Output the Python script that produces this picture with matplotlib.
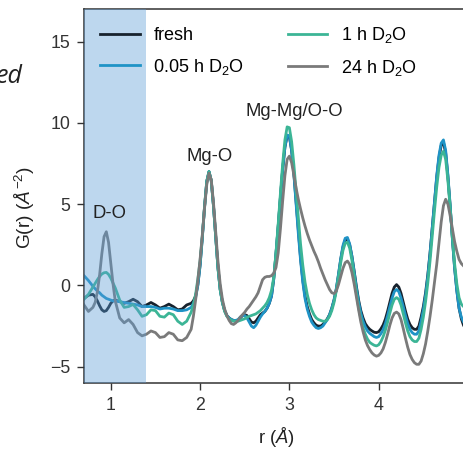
import numpy as np
import matplotlib
matplotlib.use("Agg")
import matplotlib.pyplot as plt

# G(r) of MgO after D2O exposure
# r sampling: coarse at low r, 0.025 A steps from 1.9 A on
r = [0.70, 0.75, 0.80, 0.825, 0.85, 0.875, 0.90, 0.925, 0.95, 0.975,
     1.00, 1.025, 1.05, 1.10, 1.15, 1.20, 1.25, 1.30, 1.35, 1.40,
     1.45, 1.50, 1.55, 1.60, 1.65, 1.70, 1.75, 1.80, 1.85, 1.90,
     1.925, 1.95, 1.975, 2.00, 2.025, 2.05, 2.075, 2.10, 2.125, 2.15,
     2.175, 2.20, 2.225, 2.25, 2.275, 2.30, 2.325, 2.35, 2.375, 2.40,
     2.425, 2.45, 2.475, 2.50, 2.525, 2.55, 2.575, 2.60, 2.625, 2.65,
     2.675, 2.70, 2.725, 2.75, 2.775, 2.80, 2.825, 2.85, 2.875, 2.90,
     2.925, 2.95, 2.975, 3.00, 3.025, 3.05, 3.075, 3.10, 3.125, 3.15,
     3.175, 3.20, 3.225, 3.25, 3.275, 3.30, 3.325, 3.35, 3.375, 3.40,
     3.425, 3.45, 3.475, 3.50, 3.525, 3.55, 3.575, 3.60, 3.625, 3.65,
     3.675, 3.70, 3.725, 3.75, 3.775, 3.80, 3.825, 3.85, 3.875, 3.90,
     3.925, 3.95, 3.975, 4.00, 4.025, 4.05, 4.075, 4.10, 4.125, 4.15,
     4.175, 4.20, 4.225, 4.25, 4.275, 4.30, 4.325, 4.35, 4.375, 4.40,
     4.425, 4.45, 4.475, 4.50, 4.525, 4.55, 4.575, 4.60, 4.625, 4.65,
     4.675, 4.70, 4.725, 4.75, 4.775, 4.80, 4.825, 4.85, 4.875, 4.90,
     4.925, 4.95, 4.975, 5.00]

g_fresh = [-0.80, -0.60, -0.55, -0.70, -0.95, -1.25, -1.50, -1.60, -1.55, -1.35,
           -1.10, -0.95, -0.90, -1.00, -1.10, -1.00, -0.85, -1.00, -1.30, -1.20,
           -1.05, -1.20, -1.40, -1.30, -1.15, -1.30, -1.50, -1.45, -1.20, -1.10,
           -0.95, -0.65, 0.05, 1.25, 2.95, 4.85, 6.40, 7.00, 6.45, 4.90,
           3.00, 1.10, -0.25, -1.05, -1.55, -1.85, -2.00, -2.10, -2.15, -2.20,
           -2.15, -2.00, -1.85, -1.80, -1.85, -2.05, -2.25, -2.30, -2.20, -2.00,
           -1.80, -1.70, -1.60, -1.40, -1.10, -0.65, 0.40, 1.95, 3.65, 5.45,
           7.15, 8.50, 9.20, 9.15, 8.30, 6.90, 5.15, 3.35, 1.70, 0.35,
           -0.65, -1.30, -1.75, -2.10, -2.30, -2.45, -2.50, -2.50, -2.40, -2.25,
           -2.05, -1.80, -1.40, -0.90, -0.25, 0.65, 1.60, 2.35, 2.80, 2.85,
           2.50, 1.80, 0.90, -0.05, -0.90, -1.55, -2.00, -2.35, -2.55, -2.70,
           -2.80, -2.88, -2.90, -2.85, -2.67, -2.43, -2.07, -1.58, -1.02, -0.48,
           -0.10, 0.05, -0.10, -0.48, -1.02, -1.58, -2.07, -2.40, -2.60, -2.70,
           -2.70, -2.50, -1.95, -1.30, -0.45, 0.65, 2.00, 3.55, 5.15, 6.65,
           7.85, 8.60, 8.80, 8.15, 6.70, 4.90, 2.90, 1.10, -0.30, -1.40,
           -2.05, -2.45, -2.70, -2.85]

g_005h = [0.60, 0.30, -0.05, -0.20, -0.35, -0.45, -0.60, -0.70, -0.80, -0.85,
          -0.90, -0.95, -0.95, -1.00, -1.05, -1.10, -1.15, -1.20, -1.30, -1.30,
          -1.30, -1.35, -1.45, -1.40, -1.40, -1.45, -1.55, -1.55, -1.50, -1.35,
          -1.10, -0.75, 0.00, 1.20, 2.90, 4.80, 6.40, 7.00, 6.45, 4.90,
          3.00, 1.10, -0.25, -1.05, -1.55, -1.85, -2.00, -2.10, -2.15, -2.15,
          -2.10, -1.95, -1.85, -1.85, -2.00, -2.25, -2.50, -2.60, -2.45, -2.20,
          -1.95, -1.75, -1.60, -1.40, -1.10, -0.65, 0.40, 1.95, 3.65, 5.45,
          7.15, 8.50, 9.25, 9.20, 8.30, 6.85, 5.05, 3.20, 1.55, 0.20,
          -0.80, -1.45, -1.90, -2.25, -2.45, -2.60, -2.65, -2.60, -2.50, -2.30,
          -2.10, -1.80, -1.40, -0.90, -0.20, 0.70, 1.65, 2.45, 2.90, 2.95,
          2.55, 1.80, 0.85, -0.15, -1.00, -1.70, -2.20, -2.55, -2.80, -2.95,
          -3.05, -3.15, -3.20, -3.15, -2.97, -2.72, -2.35, -1.85, -1.30, -0.78,
          -0.38, -0.25, -0.38, -0.78, -1.30, -1.85, -2.35, -2.70, -2.90, -3.00,
          -3.00, -2.80, -2.20, -1.50, -0.60, 0.55, 1.95, 3.55, 5.20, 6.75,
          8.00, 8.75, 8.95, 8.30, 6.80, 4.95, 2.90, 1.05, -0.35, -1.40,
          -1.95, -2.25, -2.45, -2.60]

g_1h = [-0.85, -0.55, -0.10, 0.12, 0.35, 0.55, 0.70, 0.78, 0.80, 0.68,
        0.45, 0.15, -0.15, -0.90, -1.35, -1.30, -1.17, -1.50, -1.90, -1.80,
        -1.50, -1.55, -1.90, -1.95, -1.70, -1.80, -2.20, -2.40, -2.20, -1.65,
        -1.20, -0.55, 0.40, 1.50, 3.05, 4.85, 6.40, 7.00, 6.45, 4.90,
        3.00, 1.10, -0.25, -1.05, -1.60, -1.90, -2.05, -2.15, -2.20, -2.20,
        -2.20, -2.15, -2.10, -2.05, -1.95, -1.90, -1.85, -1.80, -1.75, -1.65,
        -1.55, -1.40, -1.25, -1.05, -0.75, -0.30, 0.50, 2.00, 3.80, 5.70,
        7.50, 8.95, 9.75, 9.70, 8.85, 7.45, 5.80, 4.10, 2.55, 1.25,
        0.20, -0.55, -1.10, -1.50, -1.80, -2.00, -2.10, -2.15, -2.20, -2.20,
        -2.10, -1.90, -1.55, -1.05, -0.35, 0.50, 1.40, 2.15, 2.60, 2.65,
        2.30, 1.55, 0.55, -0.45, -1.35, -2.05, -2.60, -3.00, -3.30, -3.50,
        -3.60, -3.68, -3.72, -3.65, -3.45, -3.15, -2.75, -2.25, -1.70, -1.20,
        -0.85, -0.75, -0.85, -1.20, -1.75, -2.30, -2.80, -3.15, -3.35, -3.45,
        -3.45, -3.25, -2.70, -1.95, -1.00, 0.15, 1.50, 3.05, 4.60, 6.05,
        7.25, 8.00, 8.25, 7.75, 6.45, 4.80, 3.00, 1.35, 0.10, -0.75,
        -1.15, -1.30, -1.40, -1.50]

g_24h = [-1.20, -1.60, -1.35, -1.05, -0.40, 0.65, 1.95, 3.00, 3.30, 2.65,
         1.40, 0.10, -0.95, -2.00, -2.30, -2.10, -2.40, -2.90, -3.10, -3.00,
         -2.80, -2.90, -3.20, -3.15, -2.90, -3.00, -3.35, -3.40, -3.20, -2.70,
         -1.90, -0.90, 0.30, 1.60, 3.10, 4.75, 6.20, 6.90, 6.50, 5.10,
         3.30, 1.50, 0.10, -0.85, -1.45, -1.85, -2.15, -2.35, -2.40, -2.30,
         -2.15, -1.95, -1.80, -1.65, -1.45, -1.30, -1.10, -0.90, -0.70, -0.45,
         -0.05, 0.35, 0.50, 0.55, 0.55, 0.60, 0.75, 1.10, 2.00, 3.50,
         5.20, 6.75, 7.75, 7.95, 7.55, 6.80, 6.00, 5.30, 4.70, 4.15,
         3.65, 3.20, 2.80, 2.45, 2.10, 1.80, 1.45, 1.05, 0.70, 0.35,
         0.05, -0.25, -0.45, -0.50, -0.35, 0.05, 0.55, 1.05, 1.40, 1.50,
         1.30, 0.80, 0.10, -0.70, -1.50, -2.25, -2.85, -3.35, -3.70, -3.95,
         -4.15, -4.28, -4.35, -4.30, -4.15, -3.90, -3.50, -3.00, -2.45, -2.00,
         -1.72, -1.64, -1.75, -2.10, -2.65, -3.25, -3.80, -4.25, -4.55, -4.75,
         -4.85, -4.85, -4.65, -4.20, -3.60, -2.80, -1.90, -0.90, 0.20, 1.30,
         2.60, 3.90, 4.90, 5.30, 5.00, 4.30, 3.50, 2.70, 2.10, 1.60,
         1.35, 1.20, 1.05, 0.90]

labels = ["fresh", "0.05 h D$_2$O", "1 h D$_2$O", "24 h D$_2$O"]
colors = ["#17222d", "#1f93c6", "#3cb596", "#7a7a7a"]

peak_names = ["D-O", "Mg-O", "Mg-Mg/O-O"]
peak_pos = [(0.99, 4.4), (2.11, 7.9), (3.05, 10.7)]

plt.rcParams["font.family"] = ["Liberation Sans", "DejaVu Sans"]
plt.rcParams["mathtext.fontset"] = "custom"
plt.rcParams["mathtext.rm"] = "Liberation Sans"
plt.rcParams["mathtext.it"] = "Liberation Sans:italic"

fig = plt.figure(figsize=(4.64, 4.49), dpi=100)
ax = fig.add_axes([0.181, 0.147, 0.8276, 0.833])

for g, lab, c in zip([g_fresh, g_005h, g_1h, g_24h], labels, colors):
    ax.plot(r, g, color=c, lw=2.0, label=lab, zorder=2)

# shaded low-r region (drawn over the curves)
ax.axvspan(0.7, 1.39, color="#5b9bd5", alpha=0.4, lw=0, zorder=3)

for name, (x, y) in zip(peak_names, peak_pos):
    ax.text(x, y, name, ha="center", va="center", fontsize=13.3, color="#222222", zorder=4)

ax.set_xlim(0.7, 5.0)
ax.set_ylim(-6, 17)
ax.set_xticks([1, 2, 3, 4, 5])
ax.set_yticks([-5, 0, 5, 10, 15])
ax.tick_params(labelsize=12.8, length=5, width=1.0, pad=5, colors="#333333")
for s in ax.spines.values():
    s.set_color("#333333")
    s.set_linewidth(1.1)

ax.set_xlabel("r ($Å$)", fontsize=13.3, color="#222222")
ax.set_ylabel("G(r) ($Å^{-2}$)", fontsize=13.8, color="#222222")
ax.xaxis.set_label_coords(0.5, -0.113)
ax.yaxis.set_label_coords(-0.122, 0.47)

ax.legend(loc="upper left", ncol=2, frameon=False, fontsize=13,
          handlelength=2.2, handletextpad=0.75, columnspacing=2.4,
          labelspacing=0.68, borderaxespad=0.5)

# bit of the neighbouring panel's text, cut by the crop
fig.text(0.048, 0.815, "ed", fontsize=18, style="italic", family="Open Sans",
         ha="right", va="baseline", color="#222222")

fig.savefig("out.png", dpi=100)
